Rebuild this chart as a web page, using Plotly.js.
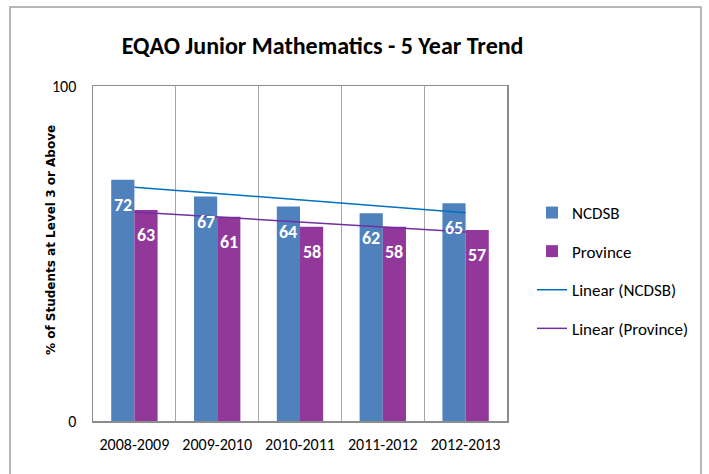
<!DOCTYPE html>
<html><head><meta charset="utf-8">
<script src="https://cdn.plot.ly/plotly-3.0.1.min.js"></script>
<style>body{margin:0;padding:0;background:#fff}#chart{width:709px;height:474px}</style>
</head><body><div id="chart"></div>
<script>
const years = ["2008-2009","2009-2010","2010-2011","2011-2012","2012-2013"];
const ncdsb = [72, 67, 64, 62, 65];
const province = [63, 61, 58, 58, 57];
const yTicks = [0, 100];

function linearFit(vals){
  const n = vals.length, xs = vals.map((_,i)=>i+1);
  const mx = xs.reduce((a,b)=>a+b,0)/n, my = vals.reduce((a,b)=>a+b,0)/n;
  let num=0, den=0;
  for(let i=0;i<n;i++){num+=(xs[i]-mx)*(vals[i]-my);den+=(xs[i]-mx)**2;}
  const s=num/den;
  return xs.map(x=>my+s*(x-mx));
}

const FONT = "Carlito, Lato, Liberation Sans, Arial, sans-serif";
const L = 93, R = 507, T = 86, B = 421;
const W = R-L, H = B-T;
const BARW = W/years.length*0.56/2;

const traces = [
  {type:'bar', name:'NCDSB', x:years, y:ncdsb, marker:{color:'#4F81BD'}, legendgroup:'a'},
  {type:'bar', name:'Province', x:years, y:province, marker:{color:'#93389B'}, legendgroup:'b'},
  {type:'scatter', mode:'lines', name:'Linear (NCDSB)', x:years, y:linearFit(ncdsb),
   line:{color:'#0070C0', width:1.5}, legendgroup:'c'},
  {type:'scatter', mode:'lines', name:'Linear (Province)', x:years, y:linearFit(province),
   line:{color:'#7030A0', width:1.5}, legendgroup:'d'}
];

const labelFont = {color:'#fff', size:18, family:FONT, weight:'bold'};
const annotations = [];
years.forEach((yr,i)=>{
  annotations.push({x:yr, y:ncdsb[i], xref:'x', yref:'y', text:String(ncdsb[i]), showarrow:false,
    xshift:-BARW/2, yshift:-25, yanchor:'middle', font:labelFont});
  annotations.push({x:yr, y:province[i], xref:'x', yref:'y', text:String(province[i]), showarrow:false,
    xshift:BARW/2, yshift:-25, yanchor:'middle', font:labelFont});
});
annotations.push({xref:'paper', yref:'paper', x:(51-L)/W, y:(B-240)/H, xanchor:'center', yanchor:'middle',
  textangle:-90, showarrow:false, text:'<b>% of Students at Level 3 or Above</b>',
  font:{size:12, family:'DejaVu Sans, sans-serif', color:'#000'}});

const layout = {
  width:709, height:474,
  margin:{l:L, r:709-R, t:T, b:474-B},
  paper_bgcolor:'#fff', plot_bgcolor:'#fff',
  font:{family:FONT, color:'#000'},
  title:{text:'<b>EQAO Junior Mathematics - 5 Year Trend</b>', xref:'container', x:0.455, xanchor:'center',
    yref:'container', y:1-46/474, yanchor:'middle', font:{size:24, family:FONT, color:'#000'}},
  barmode:'group', bargap:0.44, bargroupgap:0,
  xaxis:{type:'category', tickson:'boundaries', showgrid:true, gridcolor:'#A6A6A6', gridwidth:1,
    showline:true, linecolor:'#8C8C8C', linewidth:1.5, mirror:true, ticks:'',
    tickfont:{size:16, family:FONT, color:'#000'}, ticklabelstandoff:8, zeroline:false},
  yaxis:{range:[0,100], tickvals:yTicks, ticktext:yTicks.map(String), showgrid:false,
    showline:true, linecolor:'#8C8C8C', linewidth:1.5, mirror:true, ticks:'', zeroline:false,
    tickfont:{size:16, family:FONT, color:'#000'}, ticklabelstandoff:12},
  legend:{x:(532-L)/W, xanchor:'left', y:(B-195)/H, yanchor:'top', tracegroupgap:13.5,
    font:{size:17, family:FONT, color:'#000'}, bgcolor:'rgba(0,0,0,0)'},
  annotations:annotations,
  shapes:[{type:'rect', xref:'paper', yref:'paper',
    x0:(10-L)/W, x1:(701-L)/W, y0:(B-490)/H, y1:(B-7)/H,
    line:{color:'#A0A0A0', width:1.5}, fillcolor:'rgba(0,0,0,0)', layer:'below'}]
};

Plotly.newPlot('chart', traces, layout, {displayModeBar:false, staticPlot:true});
</script></body></html>
